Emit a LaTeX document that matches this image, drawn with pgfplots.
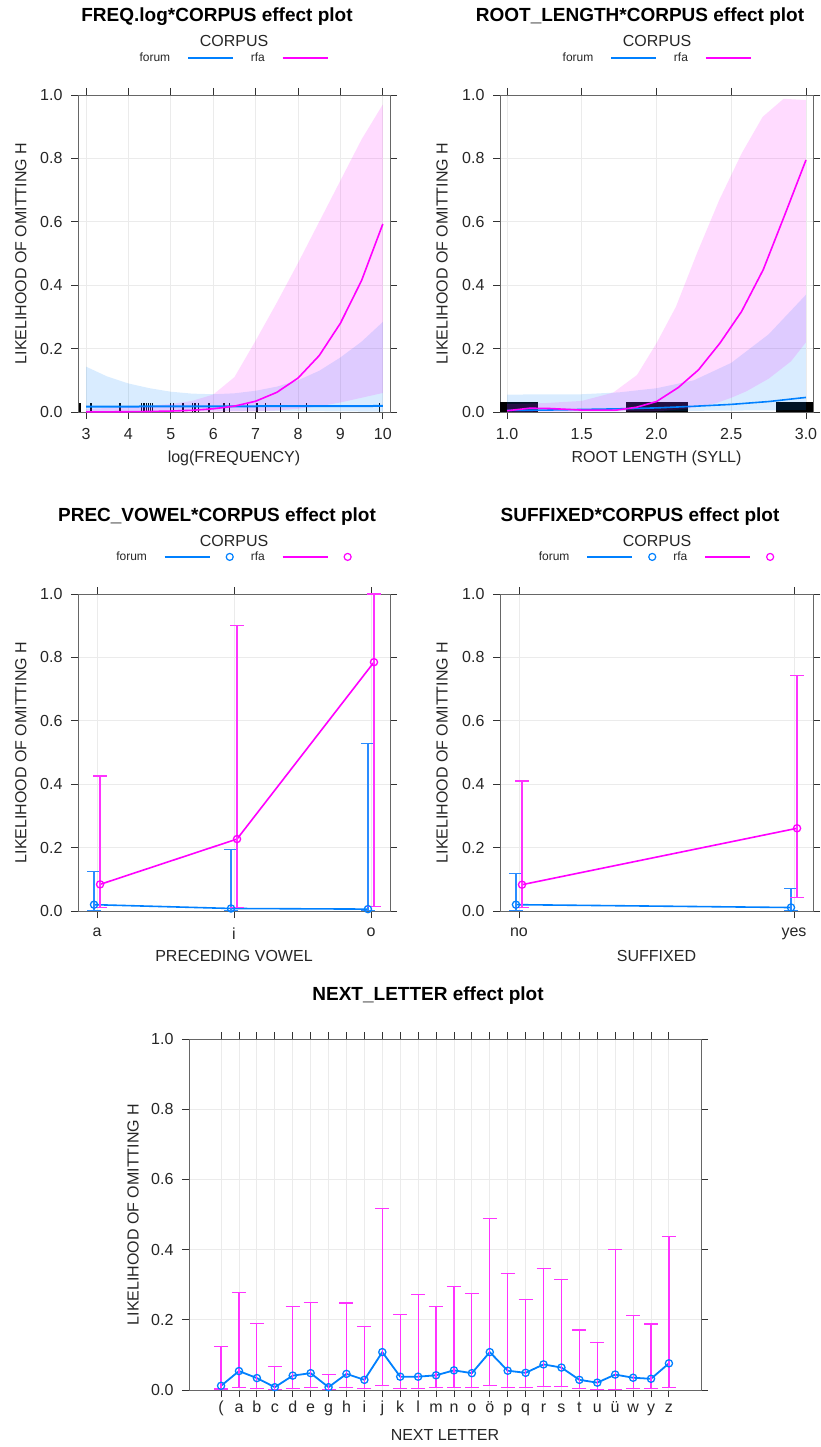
\documentclass[border=0pt]{standalone}
\usepackage{fontspec}
\setmainfont{Liberation Sans}
\usepackage{pgfplots}
\pgfplotsset{compat=1.18}
\usepackage{pgfplotstable}
\definecolor{lblue}{HTML}{0080FF}
\definecolor{lmag}{HTML}{FF00FF}
\definecolor{ebmag}{HTML}{FF33FF}
\definecolor{ebblue}{HTML}{2A8CFF}
\newcommand{\lp}{(}

\pgfplotsset{
  effect/.style={
    scale only axis,
    ymin=0, ymax=1,
    ytick={0,0.2,0.4,0.6,0.8,1},
    yticklabel style={/pgf/number format/fixed, /pgf/number format/fixed zerofill, /pgf/number format/precision=1},
    /pgf/number format/assume math mode=true,
    tick label style={font=\fontsize{16}{19}\selectfont, text=black!85},
    xticklabel style={yshift=-6pt},
    yticklabel style={xshift=-5pt},
    axis line style={black!60, line width=0.9pt},
    tick style={black!80, line width=0.9pt},
    major tick length=7pt,
    tick align=outside,
    grid=major,
    major grid style={black!8, line width=0.9pt},
    ylabel={LIKELIHOOD OF OMITTING H},
    every axis x label/.style={at={(axis description cs:0.5,0)}, anchor=base, yshift=-50pt,
      font=\fontsize{16}{19}\selectfont, text=black!85},
    legend plot pos=right,
    legend columns=2,
    legend style={draw=none, fill=none, font=\fontsize{12}{14}\selectfont, text=black!85,
      /tikz/column sep=17pt, nodes={inner sep=0pt}, anchor=center},
  },
  ylab/.style={every axis y label/.style={at={(axis description cs:#1,0.5)}, rotate=90, anchor=center,
      font=\fontsize{16}{19}\selectfont, text=black!85}},
  longline/.style={legend image code/.code={\draw[##1] (0pt,0pt) -- (45pt,0pt);}},
  linecirc/.style={legend image code/.code={\draw[##1] (0pt,0pt) -- (45pt,0pt);
      \draw[##1, line width=1.2pt] (65pt,0pt) circle[radius=3.5pt];}},
  ebar/.style={error bars/y dir=both, error bars/y explicit,
      error bars/error bar style={draw=#1, line width=1.2pt},
      error bars/error mark options={rotate=90, mark size=7pt, line width=1.1pt, draw=#1}},
}

% ---------- data ----------
\pgfplotstableread{
x y lo hi
-0.022 0.020 0.003 0.126
0.978 0.008 0.0005 0.195
1.978 0.006 0.0002 0.529
}\mlforum
\pgfplotstableread{
x y lo hi
0.022 0.084 0.011 0.426
1.022 0.227 0.010 0.901
2.022 0.785 0.013 1.000
}\mlrfa
\pgfplotstableread{
x y lo hi
-0.011 0.020 0.003 0.119
0.989 0.011 0.001 0.072
}\mrforum
\pgfplotstableread{
x y lo hi
0.011 0.083 0.012 0.410
1.011 0.261 0.042 0.743
}\mrrfa
\pgfplotstableread{
x y lo hi
0 0.012 0.003 0.124
1 0.054 0.008 0.279
2 0.034 0.005 0.190
3 0.008 0.001 0.066
4 0.041 0.005 0.239
5 0.048 0.007 0.250
6 0.008 0.001 0.043
7 0.046 0.007 0.248
8 0.029 0.004 0.182
9 0.108 0.013 0.518
10 0.038 0.005 0.216
11 0.038 0.005 0.273
12 0.042 0.006 0.237
13 0.056 0.008 0.295
14 0.048 0.006 0.276
15 0.108 0.013 0.489
16 0.055 0.006 0.331
17 0.049 0.007 0.259
18 0.073 0.010 0.346
19 0.064 0.009 0.315
20 0.029 0.004 0.171
21 0.021 0.002 0.135
22 0.044 0.002 0.400
23 0.035 0.004 0.212
24 0.032 0.004 0.188
25 0.076 0.008 0.437
}\nlt

\begin{document}
\begin{tikzpicture}[x=1pt,y=1pt]
\useasboundingbox (0,0) rectangle (820,-1447);

% ================= FREQ.log =================
\begin{axis}[effect, at={(78pt,-412pt)}, anchor=south west, width=312pt, height=317pt,
  xmin=2.81, xmax=10.17, xtick={3,4,5,6,7,8,9,10},
  xlabel={log(FREQUENCY)}, ylab=-0.183,
  legend style={at={(0.5,1.117)}}]
\addplot[ycomb, black, line width=1.4pt, forget plot] coordinates {
(2.86,0.027) (3.12,0.027) (3.80,0.027) (4.31,0.027) (4.37,0.027) (4.42,0.027) (4.47,0.027)
(4.52,0.027) (4.57,0.027) (4.99,0.027) (5.06,0.027) (5.29,0.027) (5.51,0.027) (5.57,0.027)
(5.65,0.027) (5.90,0.027) (6.25,0.027) (6.39,0.027) (6.81,0.027) (7.03,0.027) (7.24,0.027)
(7.59,0.027) (8.20,0.027) (9.92,0.027)};
\addplot[draw=none, fill=lblue, fill opacity=0.15, forget plot] coordinates {
(3,0.143) (3.5,0.112) (4,0.090) (4.5,0.075) (5,0.064) (5.5,0.058) (6,0.056) (6.5,0.059)
(7,0.067) (7.5,0.080) (8,0.100) (8.5,0.130) (9,0.172) (9.5,0.222) (10,0.284)
(10,0.001) (8,0.003) (6,0.004) (4,0.003) (3,0.002)} --cycle;
\addplot[draw=none, fill=lmag, fill opacity=0.14, forget plot] coordinates {
(3,0.010) (4,0.015) (5,0.025) (5.5,0.035) (6,0.055) (6.5,0.110) (7,0.225) (7.5,0.345)
(8,0.470) (8.5,0.600) (9,0.730) (9.5,0.860) (10,0.970)
(10,0.060) (9.5,0.045) (9,0.030) (8.5,0.018) (8,0.010) (7.5,0.005) (7,0.002) (6,0.0005) (3,0)} --cycle;
\addplot[lblue, line width=2pt, forget plot] coordinates {(3,0.017) (6.5,0.018) (10,0.019)};
\addplot[lmag, line width=1.6pt, forget plot] coordinates {
(3,0.0003) (3.5,0.0005) (4,0.0009) (4.5,0.0016) (5,0.003) (5.5,0.0054) (6,0.0101)
(6.5,0.0185) (7,0.034) (7.5,0.062) (8,0.107) (8.5,0.178) (9,0.280) (9.5,0.415) (10,0.593)};
\addlegendimage{longline, lblue, line width=1.6pt}\addlegendentry{forum}
\addlegendimage{longline, lmag, line width=1.6pt}\addlegendentry{rfa}
\end{axis}

% ================= ROOT_LENGTH =================
\begin{axis}[effect, at={(500pt,-412pt)}, anchor=south west, width=313pt, height=317pt,
  xmin=0.953, xmax=3.047, xtick={1,1.5,2,2.5,3},
  xticklabel style={/pgf/number format/fixed, /pgf/number format/fixed zerofill, /pgf/number format/precision=1},
  xlabel={ROOT LENGTH (SYLL)}, ylab=-0.185,
  legend style={at={(0.502,1.117)}}]
\addplot[fill=black, draw=none, forget plot] coordinates {(0.953,0) (0.953,0.033) (1.205,0.033) (1.205,0)} --cycle;
\addplot[fill=black, draw=none, forget plot] coordinates {(1.796,0) (1.796,0.033) (2.209,0.033) (2.209,0)} --cycle;
\addplot[fill=black, draw=none, forget plot] coordinates {(2.797,0) (2.797,0.033) (3.047,0.033) (3.047,0)} --cycle;
\addplot[draw=none, fill=lblue, fill opacity=0.15, forget plot] coordinates {
(1.0,0.055) (1.5,0.056) (1.75,0.062) (2.0,0.075) (2.25,0.100) (2.5,0.155) (2.75,0.245) (3.0,0.370)
(3.0,0.006) (2.0,0.003) (1.0,0.0005)} --cycle;
\addplot[draw=none, fill=lmag, fill opacity=0.14, forget plot] coordinates {
(1.0,0.025) (1.25,0.028) (1.5,0.035) (1.71,0.061) (1.87,0.117) (2.0,0.217) (2.13,0.332)
(2.27,0.500) (2.42,0.669) (2.57,0.816) (2.71,0.931) (2.85,0.988) (3.0,0.984)
(3.0,0.220) (2.9,0.160) (2.75,0.105) (2.6,0.065) (2.5,0.045) (2.4,0.028) (2.2,0.010) (2.0,0.002) (1.0,0.0005)} --cycle;
\addplot[lblue, line width=1.6pt, forget plot] coordinates {
(1.0,0.005) (1.25,0.006) (1.5,0.008) (1.75,0.010) (2.0,0.013) (2.25,0.018) (2.5,0.024) (2.75,0.033) (3.0,0.046)};
\addplot[lmag, line width=1.6pt, forget plot] coordinates {
(1.0,0.004) (1.152,0.012) (1.286,0.011) (1.5,0.006) (1.732,0.006) (1.866,0.015) (2.0,0.033)
(2.145,0.077) (2.281,0.133) (2.424,0.217) (2.569,0.317) (2.714,0.449) (2.859,0.623) (3.0,0.795)};
\addlegendimage{longline, lblue, line width=1.6pt}\addlegendentry{forum}
\addlegendimage{longline, lmag, line width=1.6pt}\addlegendentry{rfa}
\end{axis}

% ================= PREC_VOWEL =================
\begin{axis}[effect, at={(78pt,-911pt)}, anchor=south west, width=312pt, height=317pt,
  clip=false,
  xmin=-0.139, xmax=2.139, xtick={0,1,2}, xticklabels={a,i,o},
  xlabel={PRECEDING VOWEL}, ylab=-0.183,
  legend style={at={(0.5,1.117)}}]
\addplot[lblue, line width=1.6pt, mark=o, mark size=3.6pt, mark options={line width=1.3pt}, ebar=ebblue, forget plot]
  table[x=x, y=y, y error plus expr=\thisrow{hi}-\thisrow{y}, y error minus expr=\thisrow{y}-\thisrow{lo}] {\mlforum};
\addplot[lmag, line width=1.6pt, mark=o, mark size=3.6pt, mark options={line width=1.3pt}, ebar=ebmag, forget plot]
  table[x=x, y=y, y error plus expr=\thisrow{hi}-\thisrow{y}, y error minus expr=\thisrow{y}-\thisrow{lo}] {\mlrfa};
\addlegendimage{linecirc, lblue, line width=1.6pt}\addlegendentry{forum}
\addlegendimage{linecirc, lmag, line width=1.6pt}\addlegendentry{rfa}
\end{axis}

% ================= SUFFIXED =================
\begin{axis}[effect, at={(500pt,-911pt)}, anchor=south west, width=313pt, height=317pt,
  clip=false,
  xmin=-0.069, xmax=1.069, xtick={0,1}, xticklabels={no,yes},
  xlabel={SUFFIXED}, ylab=-0.185,
  legend style={at={(0.5,1.117)}}]
\addplot[lblue, line width=1.6pt, mark=o, mark size=3.6pt, mark options={line width=1.3pt}, ebar=ebblue, forget plot]
  table[x=x, y=y, y error plus expr=\thisrow{hi}-\thisrow{y}, y error minus expr=\thisrow{y}-\thisrow{lo}] {\mrforum};
\addplot[lmag, line width=1.6pt, mark=o, mark size=3.6pt, mark options={line width=1.3pt}, ebar=ebmag, forget plot]
  table[x=x, y=y, y error plus expr=\thisrow{hi}-\thisrow{y}, y error minus expr=\thisrow{y}-\thisrow{lo}] {\mrrfa};
\addlegendimage{linecirc, lblue, line width=1.6pt}\addlegendentry{forum}
\addlegendimage{linecirc, lmag, line width=1.6pt}\addlegendentry{rfa}
\end{axis}

% ================= NEXT_LETTER =================
\begin{axis}[effect, at={(189pt,-1390pt)}, anchor=south west, width=512pt, height=351pt,
  xmin=-1.79, xmax=26.79, xtick={0,...,25},
  xticklabels={\lp,a,b,c,d,e,g,h,i,j,k,l,m,n,o,ö,p,q,r,s,t,u,ü,w,y,z},
  xticklabel style={text height=1.2ex},
  xlabel={NEXT LETTER}, ylab=-0.109]
\addplot[lblue, line width=1.8pt, mark=o, mark size=3.6pt, mark options={line width=1.3pt}, ebar=ebmag]
  table[x=x, y=y, y error plus expr=\thisrow{hi}-\thisrow{y}, y error minus expr=\thisrow{y}-\thisrow{lo}] {\nlt};
\end{axis}

% ================= titles =================
\begin{scope}[every node/.style={font=\fontsize{19}{22}\selectfont\bfseries, anchor=base}]
\node at (217,-21.7) {FREQ.log*CORPUS effect plot};
\node at (640,-21.7) {ROOT\_LENGTH*CORPUS effect plot};
\node at (217,-521.7) {PREC\_VOWEL*CORPUS effect plot};
\node at (640,-521.7) {SUFFIXED*CORPUS effect plot};
\node at (428,-1000) {NEXT\_LETTER effect plot};
\end{scope}
\begin{scope}[every node/.style={font=\fontsize{16}{19}\selectfont, anchor=base, text=black!85}]
\node at (234,-46.7) {CORPUS};
\node at (657,-46.7) {CORPUS};
\node at (234,-546.7) {CORPUS};
\node at (657,-546.7) {CORPUS};
\end{scope}
\end{tikzpicture}
\end{document}
